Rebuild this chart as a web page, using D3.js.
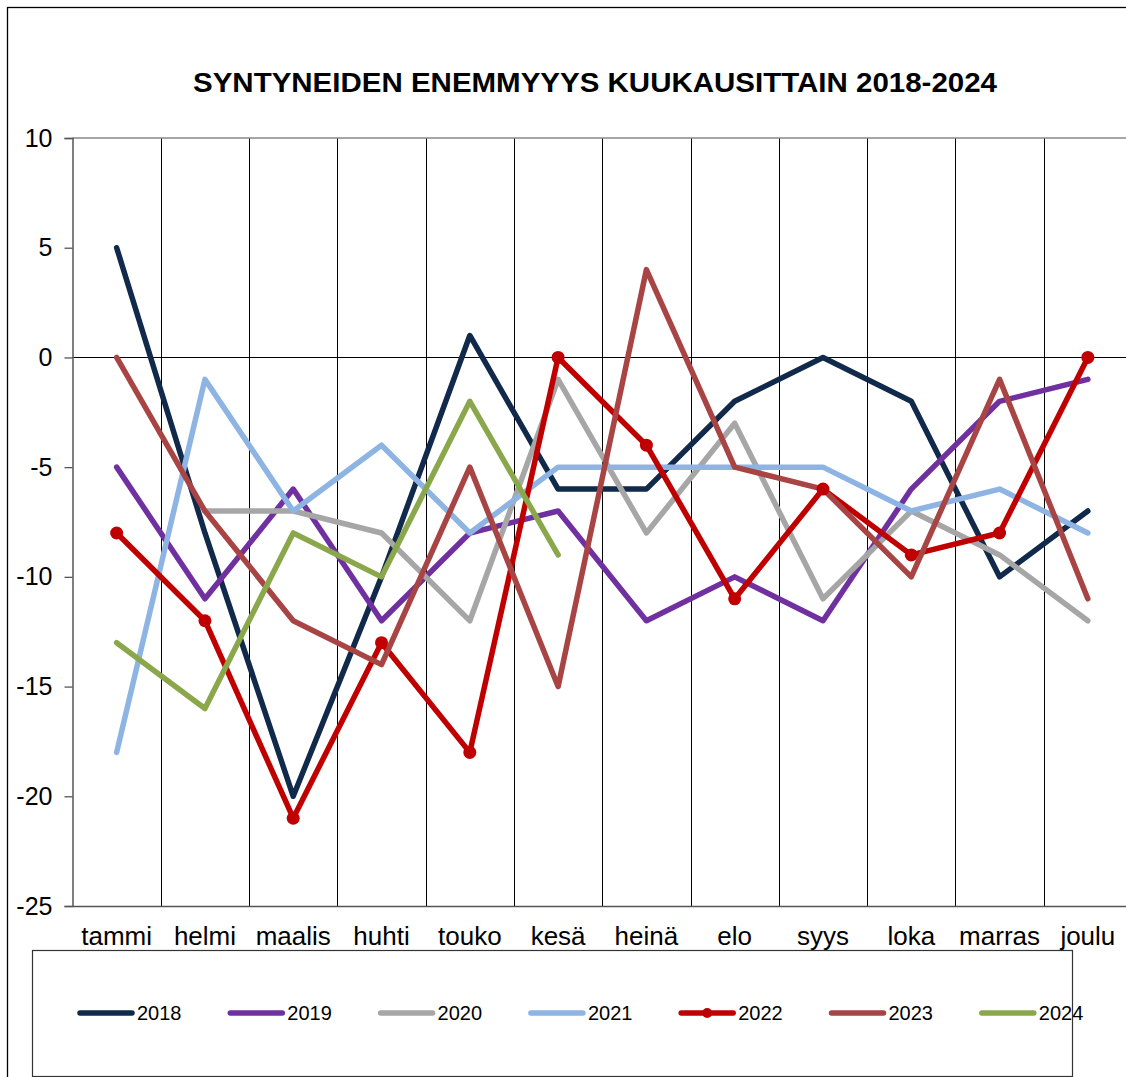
<!DOCTYPE html>
<html>
<head>
<meta charset="utf-8">
<script src="https://d3js.org/d3.v7.min.js"></script>
<style>
    body { margin: 0; background: #fff; }
    text { font-family: "Liberation Sans", Arial, sans-serif; }
</style>
</head>
<body>
<div id="chart"></div>
<script>
'use strict';

let months = ["tammi", "helmi", "maalis", "huhti", "touko", "kesä", "heinä", "elo", "syys", "loka", "marras", "joulu"]
let years = ["2018", "2019", "2020", "2021", "2022", "2023", "2024"]
let yTicks = [10, 5, 0, -5, -10, -15, -20, -25]

let v2018 = [5, -8, -20, -10, 1, -6, -6, -2, 0, -2, -10, -7]
let v2019 = [-5, -11, -6, -12, -8, -7, -12, -10, -12, -6, -2, -1]
let v2020 = [null, -7, -7, -8, -12, -1, -8, -3, -11, -7, -9, -12]
let v2021 = [-18, -1, -7, -4, -8, -5, -5, -5, -5, -7, -6, -8]
let v2022 = [-8, -12, -21, -13, -18, 0, -4, -11, -6, -9, -8, 0]
let v2023 = [0, -7, -12, -14, -5, -15, 4, -5, -6, -10, -1, -11]
let v2024 = [-13, -16, -8, -10, -2, -9]

let colors = ["#11294a", "#7030a0", "#a6a6a6", "#8db4e2", "#c00000", "#a84444", "#8aa84b"]
let seriesValues = [v2018, v2019, v2020, v2021, v2022, v2023, v2024]

let width = 1126, height = 1077
let plot = { left: 72.5, right: 1132, top: 138, bottom: 906 }

let svg = d3.select("#chart").append("svg")
    .attr("width", width)
    .attr("height", height)

// outer chart frame
svg.append("rect")
    .attr("x", 7.5).attr("y", 7.5)
    .attr("width", 1140).attr("height", 1090)
    .attr("fill", "none")
    .attr("stroke", "#000")
    .attr("stroke-width", 1.3)

svg.append("text")
    .attr("x", 595)
    .attr("y", 92)
    .attr("text-anchor", "middle")
    .attr("font-weight", "bold")
    .attr("font-size", "27px")
    .attr("textLength", 804)
    .attr("lengthAdjust", "spacingAndGlyphs")
    .text("SYNTYNEIDEN ENEMMYYYS KUUKAUSITTAIN 2018-2024")

let x = d3.scaleBand()
    .domain(months)
    .range([plot.left, plot.right])

let y = d3.scaleLinear()
    .domain([-25, 10])
    .range([plot.bottom, plot.top])

// vertical gridlines between the months
svg.append("g")
    .selectAll("line")
    .data(months.slice(1))
    .enter().append("line")
    .attr("x1", d => Math.round(x(d)) + 0.5)
    .attr("x2", d => Math.round(x(d)) + 0.5)
    .attr("y1", plot.top)
    .attr("y2", plot.bottom)
    .attr("stroke", "#000")
    .attr("stroke-width", 1)

svg.append("line")
    .attr("x1", plot.left).attr("x2", plot.right)
    .attr("y1", y(10)).attr("y2", y(10))
    .attr("stroke", "#888")
    .attr("stroke-width", 1.5)

svg.append("line")
    .attr("x1", plot.left).attr("x2", plot.right)
    .attr("y1", Math.round(y(0)) + 0.5).attr("y2", Math.round(y(0)) + 0.5)
    .attr("stroke", "#000")
    .attr("stroke-width", 1.2)

let yAxis = d3.axisLeft(y)
    .tickValues(yTicks)
    .tickFormat(d => String(d))
    .tickSize(8)
    .tickPadding(12)

let gy = svg.append("g")
    .attr("transform", "translate(" + plot.left + ",0)")
    .call(yAxis)
gy.select(".domain").attr("stroke", "#555").attr("stroke-width", 1.5)
gy.selectAll(".tick line").attr("stroke", "#555").attr("stroke-width", 1.3)
gy.selectAll(".tick text")
    .attr("font-size", "25px")
    .attr("fill", "#000")
    .style("font-family", "'Liberation Sans', Arial, sans-serif")

let xAxis = d3.axisBottom(x)
    .tickSize(0)

let gx = svg.append("g")
    .attr("transform", "translate(0," + plot.bottom + ")")
    .call(xAxis)
gx.select(".domain").attr("stroke", "#555").attr("stroke-width", 1.5)
gx.selectAll(".tick text")
    .attr("y", 39)
    .attr("dy", 0)
    .attr("font-size", "26px")
    .attr("fill", "#000")
    .style("font-family", "'Liberation Sans', Arial, sans-serif")

let line = d3.line()
    .defined(d => d.value !== null)
    .x(d => x(d.month) + x.bandwidth() / 2)
    .y(d => y(d.value))

let series = years.map((yr, i) => ({
    year: yr,
    color: colors[i],
    points: seriesValues[i].map((v, j) => ({ month: months[j], value: v }))
}))

svg.append("g")
    .selectAll("path")
    .data(series)
    .enter().append("path")
    .attr("d", d => line(d.points))
    .attr("fill", "none")
    .attr("stroke", d => d.color)
    .attr("stroke-width", 5.5)
    .attr("stroke-linejoin", "round")
    .attr("stroke-linecap", "round")

// 2022 has markers
let s2022 = series[4]
svg.append("g")
    .selectAll("circle")
    .data(s2022.points.filter(d => d.value !== null))
    .enter().append("circle")
    .attr("cx", d => x(d.month) + x.bandwidth() / 2)
    .attr("cy", d => y(d.value))
    .attr("r", 6.5)
    .attr("fill", s2022.color)

// legend
let legend = svg.append("g")
svg.append("rect")
    .attr("x", 32.5).attr("y", 950.5)
    .attr("width", 1040).attr("height", 126)
    .attr("fill", "none")
    .attr("stroke", "#333")
    .attr("stroke-width", 1.2)

let item = legend.selectAll(".item")
    .data(series)
    .enter().append("g")
    .attr("class", "item")
    .attr("transform", (d, i) => "translate(" + (80 + i * 150.3) + ",1013)")

item.append("line")
    .attr("x1", 0).attr("x2", 52)
    .attr("y1", 0).attr("y2", 0)
    .attr("stroke", d => d.color)
    .attr("stroke-width", 5.5)
    .attr("stroke-linecap", "round")

item.filter(d => d.year === "2022").append("circle")
    .attr("cx", 26).attr("cy", 0).attr("r", 5)
    .attr("fill", d => d.color)

item.append("text")
    .attr("x", 57)
    .attr("y", 7)
    .attr("font-size", "20px")
    .text(d => d.year)
</script>
</body>
</html>
